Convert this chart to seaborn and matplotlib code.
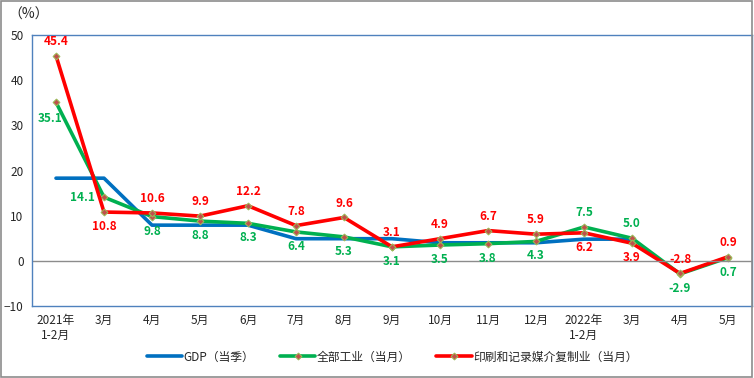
import pandas as pd
import matplotlib.pyplot as plt
import seaborn as sns

# --- données ---
months = ['2021年\n1-2月', '3月', '4月', '5月', '6月', '7月', '8月', '9月',
          '10月', '11月', '12月', '2022年\n1-2月', '3月', '4月', '5月']
gdp = [18.3, 18.3, 7.9, 7.9, 7.9, 4.9, 4.9, 4.9, 4.0, 4.0, 4.0, 4.8, 4.8, None, None]
industry = [35.1, 14.1, 9.8, 8.8, 8.3, 6.4, 5.3, 3.1, 3.5, 3.8, 4.3, 7.5, 5.0, -2.9, 0.7]
printing = [45.4, 10.8, 10.6, 9.9, 12.2, 7.8, 9.6, 3.1, 4.9, 6.7, 5.9, 6.2, 3.9, -2.8, 0.9]

# position des étiquettes : +1 au-dessus, -1 en dessous
ind_pos = [-1, 0, -1, -1, -1, -1, -1, -1, -1, -1, -1, 1, 1, -1, -1]
prt_pos = [1, -1, 1, 1, 1, 1, 1, 1, 1, 1, 1, -1, -1, 1, 1]

sns.set_style('white')
plt.rcParams['font.family'] = ['Noto Sans CJK SC', 'DejaVu Sans']

df = pd.DataFrame({'idx': range(len(months)), 'gdp': gdp,
                   'industry': industry, 'printing': printing})

fig = plt.figure(figsize=(7.54, 3.78), dpi=100)
ax = fig.add_axes([32 / 754, 72 / 378, 720 / 754, 271 / 378])

blue, green, red = '#0070C0', '#00B050', '#FF0000'

sns.lineplot(data=df, x='idx', y='gdp', ax=ax, color=blue, lw=2.6,
             label='GDP（当季）')
sns.lineplot(data=df, x='idx', y='industry', ax=ax, color=green, lw=2.6,
             marker='D', markersize=3.5, markerfacecolor='#C0504D',
             markeredgecolor='#9BBB59', label='全部工业（当月）')
sns.lineplot(data=df, x='idx', y='printing', ax=ax, color=red, lw=2.6,
             marker='D', markersize=3.5, markerfacecolor='#C0504D',
             markeredgecolor='#9BBB59', label='印刷和记录媒介复制业（当月）')

# étiquettes de valeurs
for i, (v, p) in enumerate(zip(industry, ind_pos)):
    dx = {0: -0.12, 1: -0.45}.get(i, 0)
    dy = 3.5 if i == 0 else 3.2
    ax.text(i + dx, v + p * dy, f'{v:.1f}', color=green, fontsize=8.5,
            fontweight='bold', ha='center', va='center')
for i, (v, p) in enumerate(zip(printing, prt_pos)):
    ax.text(i, v + p * 3.2, f'{v:.1f}', color=red, fontsize=8.5,
            fontweight='bold', ha='center', va='center')

ax.axhline(0, color='#8C8C8C', lw=1)
ax.set_xlim(-0.5, len(months) - 0.5)
ax.set_ylim(-10, 50)
ax.set_yticks(range(-10, 51, 10))
ax.set_xticks(range(len(months)))
ax.set_xticklabels(months, fontsize=8.5)
ax.tick_params(axis='y', labelsize=8.5, length=0, pad=6)
ax.tick_params(axis='x', length=0, pad=6)
ax.set_xlabel('')
ax.set_ylabel('')
for s in ax.spines.values():
    s.set_color('#4F81BD')
    s.set_linewidth(1)

fig.text(8 / 754, 1 - 15 / 378, '（%）', fontsize=10, va='center', ha='left')

ax.legend(loc='center', bbox_to_anchor=(0.5, -0.188), ncol=3,
          frameon=False, fontsize=8.5, handlelength=3.0, handletextpad=0.1,
          columnspacing=2.2)

# bordure extérieure
fig.patches.append(plt.Rectangle((0.001, 0.002), 0.997, 0.996, transform=fig.transFigure,
                                 fill=False, edgecolor='#8C8C8C', lw=1.2))

plt.savefig('out.png', dpi=100)
